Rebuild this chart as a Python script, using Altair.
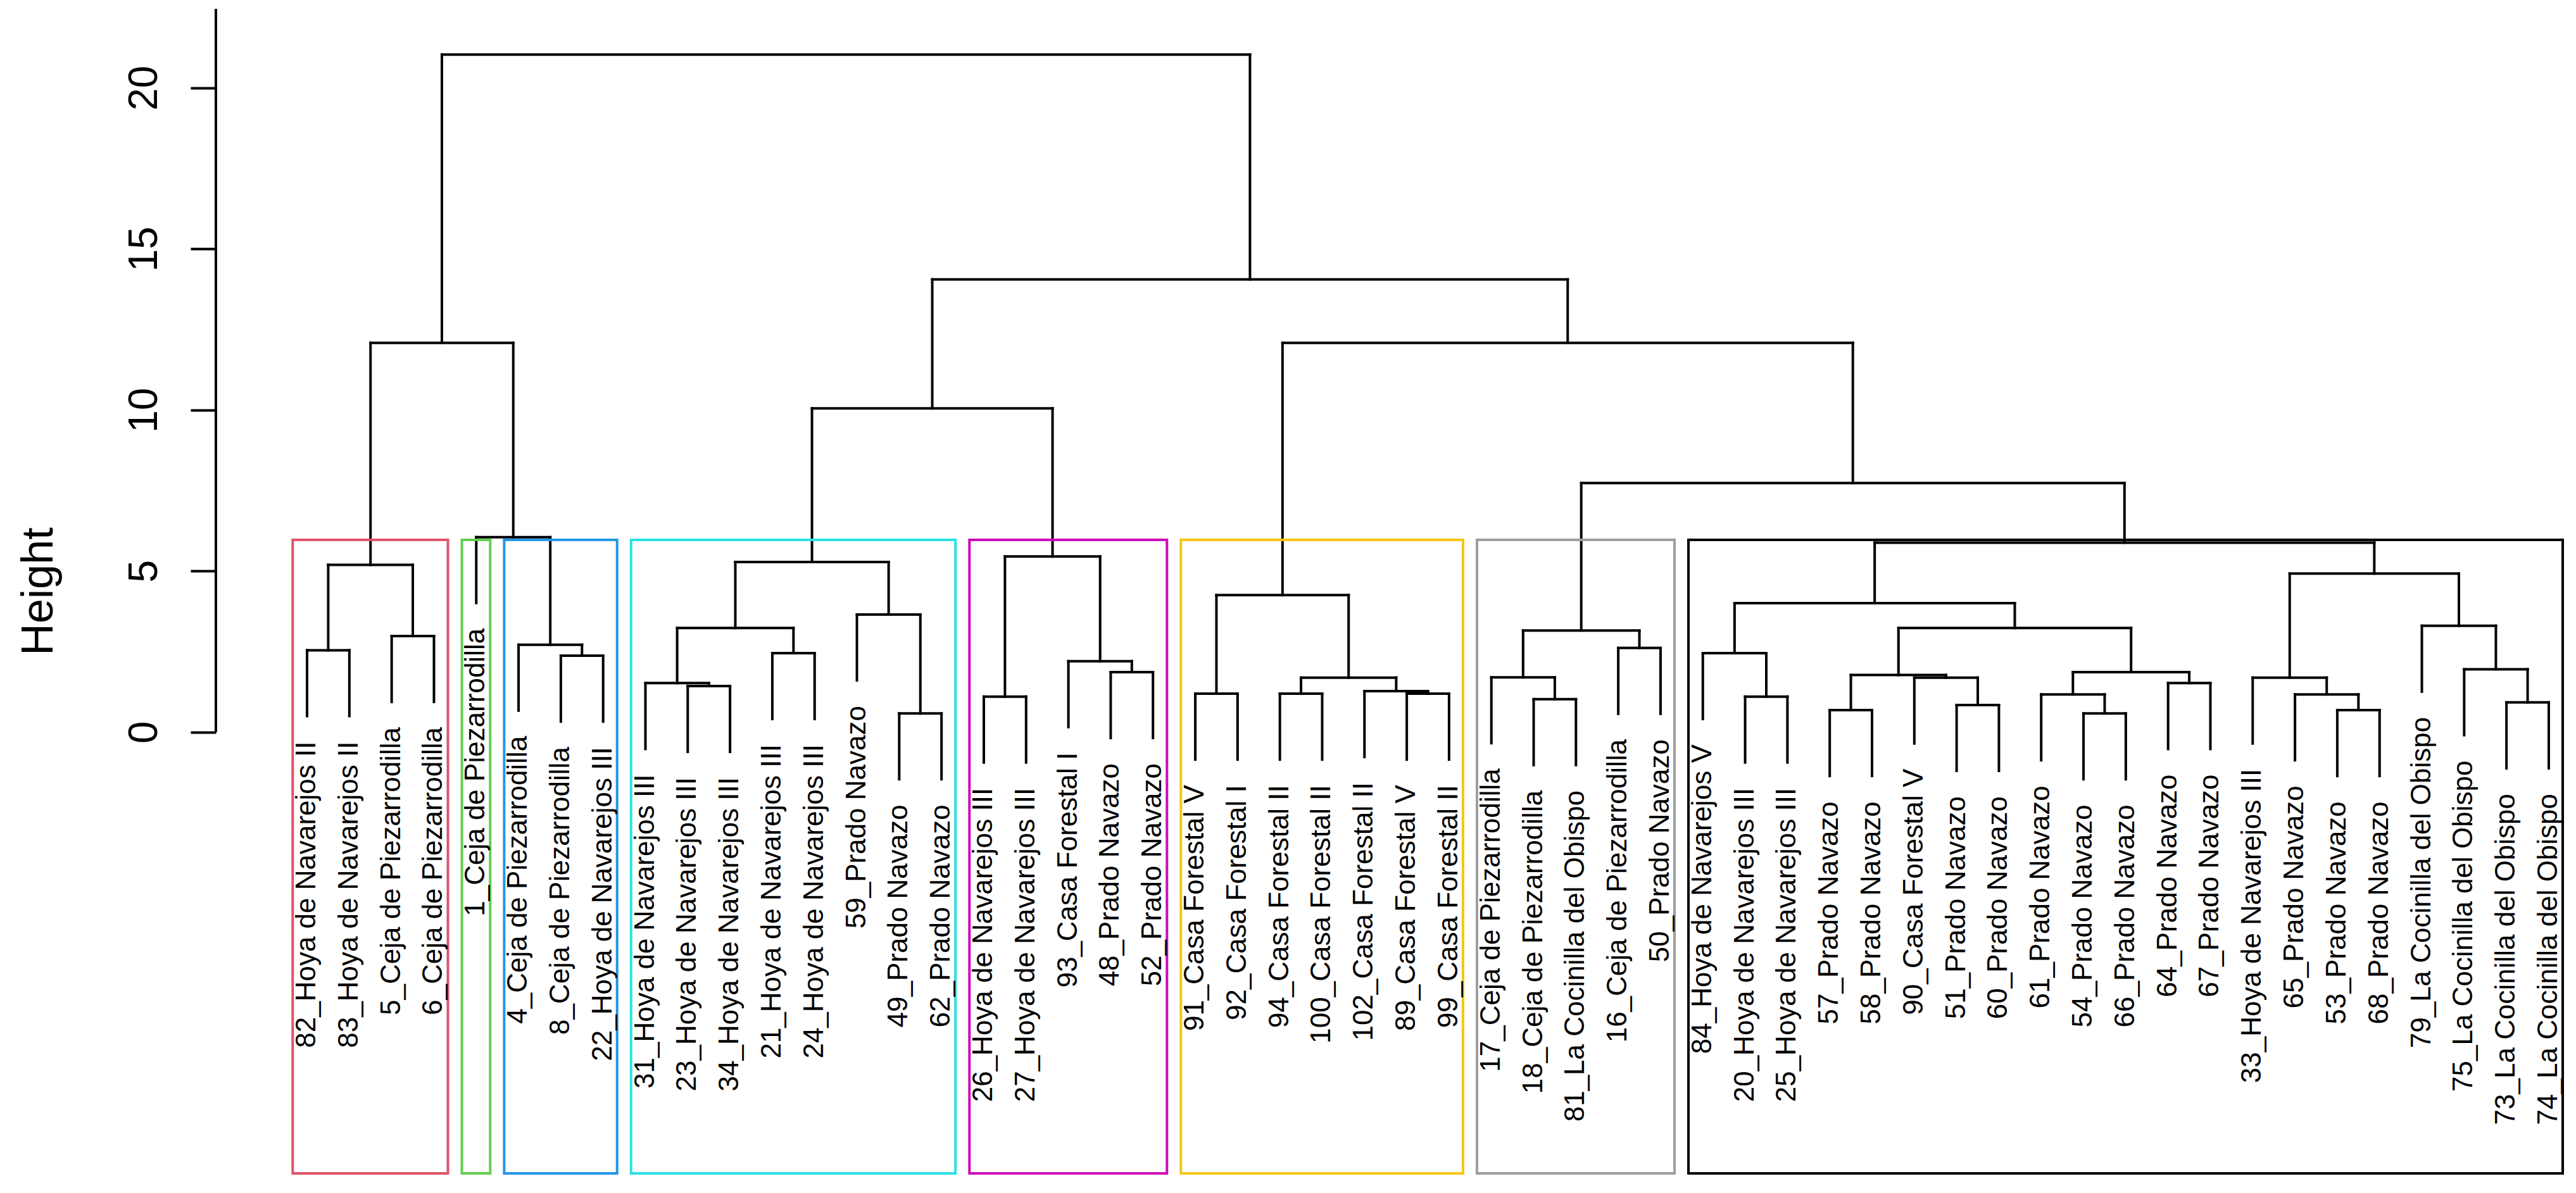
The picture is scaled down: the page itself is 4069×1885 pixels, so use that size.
import altair as alt
import pandas as pd

# ---------------- data ----------------
LEAF_LABELS = [
    "82_Hoya de Navarejos II", "83_Hoya de Navarejos II", "5_Ceja de Piezarrodilla", "6_Ceja de Piezarrodilla",
    "1_Ceja de Piezarrodilla",
    "4_Ceja de Piezarrodilla", "8_Ceja de Piezarrodilla", "22_Hoya de Navarejos III",
    "31_Hoya de Navarejos III", "23_Hoya de Navarejos III", "34_Hoya de Navarejos III", "21_Hoya de Navarejos III",
    "24_Hoya de Navarejos III", "59_Prado Navazo", "49_Prado Navazo", "62_Prado Navazo",
    "26_Hoya de Navarejos III", "27_Hoya de Navarejos III", "93_Casa Forestal I", "48_Prado Navazo", "52_Prado Navazo",
    "91_Casa Forestal V", "92_Casa Forestal I", "94_Casa Forestal II", "100_Casa Forestal II", "102_Casa Forestal II",
    "89_Casa Forestal V", "99_Casa Forestal II",
    "17_Ceja de Piezarrodilla", "18_Ceja de Piezarrodilla", "81_La Cocinilla del Obispo", "16_Ceja de Piezarrodilla",
    "50_Prado Navazo",
    "84_Hoya de Navarejos V", "20_Hoya de Navarejos III", "25_Hoya de Navarejos III", "57_Prado Navazo",
    "58_Prado Navazo", "90_Casa Forestal V", "51_Prado Navazo", "60_Prado Navazo", "61_Prado Navazo",
    "54_Prado Navazo", "66_Prado Navazo", "64_Prado Navazo", "67_Prado Navazo", "33_Hoya de Navarejos III",
    "65_Prado Navazo", "53_Prado Navazo", "68_Prado Navazo", "79_La Cocinilla del Obispo",
    "75_La Cocinilla del Obispo", "73_La Cocinilla del Obispo", "74_La Cocinilla del Obispo",
]

# R-style merge table: negative = leaf position (1-based, plotting order), positive = earlier merge row
MERGE_LEFT = [-1, -3, 1, -7, -6, -5, 3,
              -10, -9, -12, 9, -15, -14, 11,
              -17, -20, -19, 15, 14,
              -22, -24, -27, -26, 21, 20,
              -30, -29, -32, 27,
              -35, -34, -37, -40, -39, 32,
              -43, -42, -45, 37, 35, 31,
              -49, -48, -47, -53, -52, -51, 44, 41, 29, 25, 19, 7]
MERGE_RIGHT = [-2, -4, 2, -8, 4, 5, 6,
               -11, 8, -13, 10, -16, 12, 13,
               -18, -21, 16, 17, 18,
               -23, -25, -28, 22, 23, 24,
               -31, 26, -33, 28,
               -36, 30, -38, -41, 33, 34,
               -44, 36, -46, 38, 39, 40,
               -50, 42, 43, -54, 45, 46, 47, 48, 49, 50, 51, 52]
MERGE_HEIGHT = [2.54, 2.98, 5.19, 2.37, 2.71, 6.05, 12.08,
                1.43, 1.52, 2.45, 3.23, 0.58, 3.65, 5.28,
                1.10, 1.86, 2.20, 5.45, 10.05,
                1.19, 1.19, 1.19, 1.27, 1.69, 4.25,
                1.02, 1.70, 2.61, 3.15,
                1.10, 2.45, 0.68, 0.84, 1.69, 1.77,
                0.58, 1.17, 1.52, 1.86, 3.23, 4.00,
                0.68, 1.17, 1.69, 0.92, 1.95, 3.30, 4.92, 5.88, 7.73, 12.08, 14.05, 21.03]

CLUSTER_SIZES = [4, 1, 3, 8, 5, 7, 5, 21]
CLUSTER_COLORS = ["#DF536B", "#61D04F", "#2297E6", "#28E2E5", "#CD0BBC", "#F5C710", "#9E9E9E", "#000000"]

Y_TICKS = [0, 5, 10, 15, 20]

# ---------------- layout (like plot.hclust / rect.hclust) ----------------
W, H = 3720, 1840
X_MIN = -1.156
X_MAX = X_MIN + W / 66.81
Y_MIN, Y_MAX = -13.7, 22.45

hang = 0.1 * (max(MERGE_HEIGHT) - min(MERGE_HEIGHT))
node_x = {}
segs, leaves = [], []
for i, (a, b, h) in enumerate(zip(MERGE_LEFT, MERGE_RIGHT, MERGE_HEIGHT), start=1):
    ends = []
    for c in (a, b):
        if c < 0:
            cx, cy = float(-c), h - hang
            leaves.append({"x": cx, "y": cy, "label": LEAF_LABELS[-c - 1]})
        else:
            cx, cy = node_x[c], MERGE_HEIGHT[c - 1]
        ends.append(cx)
        segs.append({"x": cx, "x2": cx, "y": h, "y2": cy})
    segs.append({"x": ends[0], "x2": ends[1], "y": h, "y2": h})
    node_x[i] = (ends[0] + ends[1]) / 2

seg_df = pd.DataFrame(segs)
leaf_df = pd.DataFrame(leaves)

k = len(CLUSTER_SIZES)
hs = sorted(MERGE_HEIGHT, reverse=True)
box_top = (hs[k - 2] + hs[k - 1]) / 2
boxes, cum = [], 0
for size, col in zip(CLUSTER_SIZES, CLUSTER_COLORS):
    boxes.append({"x": cum + 0.66, "x2": cum + size + 0.33, "y": Y_MIN, "y2": box_top, "color": col})
    cum += size
box_df = pd.DataFrame(boxes)

axis_df = pd.DataFrame({"y": [0.0], "y2": [Y_MAX]})

# ---------------- chart ----------------
FONT = "Liberation Sans"
xs = alt.Scale(domain=[X_MIN, X_MAX], nice=False, zero=False)
ys = alt.Scale(domain=[Y_MIN, Y_MAX], nice=False, zero=False)
yaxis = alt.Axis(
    values=Y_TICKS, domain=False, grid=False,
    ticks=True, tickSize=40, tickWidth=4, tickColor="black",
    labelFont=FONT, labelFontSize=64, labelColor="black", labelAngle=270,
    labelAlign="center", labelBaseline="alphabetic", labelPadding=54,
    labelOverlap=False, labelFlush=False,
    title="Height", titleFont=FONT, titleFontSize=70, titleFontWeight="normal",
    titleColor="black", titleAngle=270, titleAlign="center", titleBaseline="alphabetic",
    titleX=-259, titleY=H / 2,
)

tree = alt.Chart(seg_df).mark_rule(color="black", strokeWidth=4, strokeCap="square").encode(
    x=alt.X("x:Q", scale=xs, axis=None),
    x2="x2:Q",
    y=alt.Y("y:Q", scale=ys, axis=yaxis),
    y2="y2:Q",
)

rects = alt.Chart(box_df).mark_rect(fill="transparent", strokeWidth=4).encode(
    x=alt.X("x:Q", scale=xs, axis=None),
    x2="x2:Q",
    y=alt.Y("y:Q", scale=ys, axis=yaxis),
    y2="y2:Q",
    stroke=alt.Stroke("color:N", scale=None),
)

labels = alt.Chart(leaf_df).mark_text(
    angle=270, align="right", baseline="middle", dx=-40,
    fontSize=44, font=FONT, color="black",
).encode(
    x=alt.X("x:Q", scale=xs, axis=None),
    y=alt.Y("y:Q", scale=ys, axis=yaxis),
    text="label:N",
)

axis_line = alt.Chart(axis_df).mark_rule(color="black", strokeWidth=4).encode(
    x=alt.value(0),
    y=alt.Y("y:Q", scale=ys, axis=yaxis),
    y2="y2:Q",
)

chart = alt.layer(tree, rects, labels, axis_line).properties(
    width=W, height=H,
    padding={"left": 333, "top": 6, "right": 0, "bottom": 10},
    autosize=alt.AutoSizeParams(type="none"),
    background="white",
).configure_view(stroke="transparent")

chart.save("out.html", embed_options={"renderer": "svg", "actions": False})
